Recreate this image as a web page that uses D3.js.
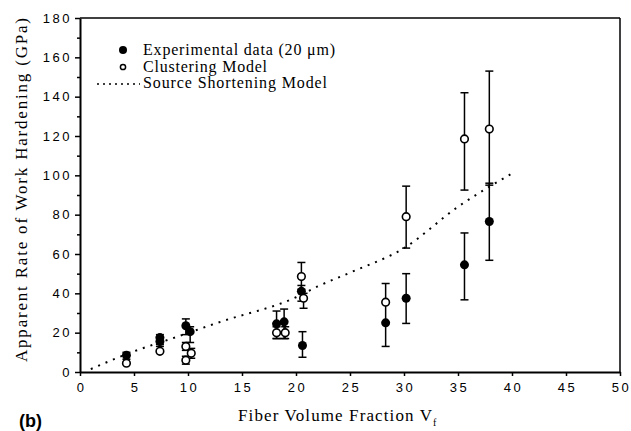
<!DOCTYPE html>
<html>
<head>
<meta charset="utf-8">
<script src="https://cdn.jsdelivr.net/npm/d3@7"></script>
<style>
  body { margin: 0; background: #fff; }
  svg { display: block; }
</style>
</head>
<body>
<svg width="631" height="431"></svg>
<script>
// experimental data (filled circles)
const expX = [4.3, 7.4, 7.4, 9.8, 10.2, 18.2, 18.9, 20.5, 20.6, 28.3, 30.2, 35.6, 37.9]
const expY = [8.5, 17.5, 15.5, 23.5, 20.5, 24.5, 25.5, 41, 13.5, 25, 37.5, 54.5, 76.5]
const expLo = [6.5, 14, 13, 19, 15, 17, 17, 36, 7.5, 13, 24.7, 36.7, 56.8]
const expHi = [10, 19, 18, 27, 23, 31, 32, 44, 20.5, 45, 50, 70.7, 96]

// clustering model (open circles)
const cluX = [4.3, 7.4, 9.8, 9.8, 10.3, 18.2, 19.0, 20.5, 20.7, 28.3, 30.2, 35.6, 37.9]
const cluY = [4.5, 10.5, 6, 13, 9.5, 20, 20, 48.5, 37.5, 35.5, 79, 118.5, 123.5]
const cluLo = [4.5, 10.5, 4, 11, 7, 17, 17, 42, 32.4, 35.5, 63, 92.5, 95]
const cluHi = [4.5, 10.5, 8, 15, 12, 23, 23, 55.7, 40, 35.5, 94.5, 142, 153]

// source shortening model (dotted)
const modelX = [1, 5, 8.5, 13, 20, 22, 25, 30, 35, 40]
const modelY = [1.5, 10.5, 17, 25.5, 38, 43.5, 50.5, 63, 84, 101]

const xTicks = [0, 5, 10, 15, 20, 25, 30, 35, 40, 45, 50]
const yTicks = [0, 20, 40, 60, 80, 100, 120, 140, 160, 180]

const svg = d3.select('svg')
const mLeft = 80, mRight = 620, mTop = 18, mBottom = 372

const x = d3.scaleLinear().domain([0, 50]).range([mLeft, mRight])
const y = d3.scaleLinear().domain([0, 180]).range([mBottom, mTop])

const serif = '"Liberation Serif", "Times New Roman", serif'
const sans = '"Liberation Sans", Arial, sans-serif'

// frame
svg.append('line').attr('x1', mLeft).attr('x2', mRight).attr('y1', mTop).attr('y2', mTop)
  .attr('stroke', '#000').attr('stroke-width', 1.5)
svg.append('line').attr('x1', mRight).attr('x2', mRight).attr('y1', mTop).attr('y2', mBottom)
  .attr('stroke', '#000').attr('stroke-width', 1.5)

// axes
svg.append('g')
  .attr('transform', 'translate(' + mLeft + ',0)')
  .call(d3.axisLeft(y).tickValues(yTicks).tickSize(5).tickSizeOuter(0).tickPadding(3))
const yMinor = svg.append('g')
  .attr('transform', 'translate(' + mLeft + ',0)')
  .call(d3.axisLeft(y).tickValues(d3.range(10, 180, 20)).tickSize(3).tickSizeOuter(0).tickFormat(''))
yMinor.select('.domain').remove()

const xAxis = svg.append('g')
  .attr('transform', 'translate(0,' + mBottom + ')')
  .call(d3.axisBottom(x).tickValues(xTicks).tickSize(4).tickSizeOuter(0).tickPadding(5))

svg.selectAll('.domain').attr('stroke', '#000').attr('stroke-width', 2)
svg.selectAll('.tick line').attr('stroke', '#000').attr('stroke-width', 1.5)
svg.selectAll('.tick text')
  .style('font-family', sans)
  .style('font-size', '13px')
  .style('letter-spacing', '2.5px')
  .attr('fill', '#000')
xAxis.selectAll('.tick text').attr('dy', '0.85em').attr('dx', '1px')

// model curve
const line = d3.line().x(d => x(d[0])).y(d => y(d[1])).curve(d3.curveMonotoneX)
svg.append('path')
  .datum(d3.zip(modelX, modelY))
  .attr('d', line)
  .attr('fill', 'none')
  .attr('stroke', '#000')
  .attr('stroke-width', 2)
  .attr('stroke-dasharray', '2,6')

// error bars
function errorBars (xs, lo, hi) {
  const g = svg.append('g').attr('stroke', '#000').attr('stroke-width', 1.5)
  xs.forEach(function (v, i) {
    if (lo[i] === hi[i]) return
    g.append('line').attr('x1', x(v)).attr('x2', x(v)).attr('y1', y(lo[i])).attr('y2', y(hi[i]))
    g.append('line').attr('x1', x(v) - 4).attr('x2', x(v) + 4).attr('y1', y(lo[i])).attr('y2', y(lo[i]))
    g.append('line').attr('x1', x(v) - 4).attr('x2', x(v) + 4).attr('y1', y(hi[i])).attr('y2', y(hi[i]))
  })
}
errorBars(expX, expLo, expHi)
errorBars(cluX, cluLo, cluHi)

svg.append('g').selectAll('circle')
  .data(d3.zip(expX, expY))
  .enter().append('circle')
  .attr('cx', d => x(d[0]))
  .attr('cy', d => y(d[1]))
  .attr('r', 4.5)
  .attr('fill', '#000')

svg.append('g').selectAll('circle')
  .data(d3.zip(cluX, cluY))
  .enter().append('circle')
  .attr('cx', d => x(d[0]))
  .attr('cy', d => y(d[1]))
  .attr('r', 3.8)
  .attr('fill', '#fff')
  .attr('stroke', '#000')
  .attr('stroke-width', 1.6)

// legend
svg.append('circle').attr('cx', 123).attr('cy', 50).attr('r', 4).attr('fill', '#000')
svg.append('circle').attr('cx', 123).attr('cy', 67).attr('r', 2.6)
  .attr('fill', '#fff').attr('stroke', '#000').attr('stroke-width', 1.5)
svg.append('line').attr('x1', 97).attr('x2', 140).attr('y1', 84).attr('y2', 84)
  .attr('stroke', '#000').attr('stroke-width', 1.5).attr('stroke-dasharray', '2,4')

const legendText = [
  ['Experimental data (20 \u03bcm)', 55, 192],
  ['Clustering Model', 71.5, 124],
  ['Source Shortening Model', 87.5, 184]
]
legendText.forEach(function (d) {
  svg.append('text')
    .attr('x', 143).attr('y', d[1])
    .attr('textLength', d[2]).attr('lengthAdjust', 'spacing')
    .style('font-family', serif).style('font-size', '16px')
    .text(d[0])
})

// axis titles
svg.append('text')
  .attr('transform', 'translate(27,190) rotate(-90)')
  .attr('text-anchor', 'middle')
  .attr('textLength', 344).attr('lengthAdjust', 'spacing')
  .style('font-family', serif).style('font-size', '17px')
  .text('Apparent Rate of Work Hardening (GPa)')

svg.append('text')
  .attr('x', 238).attr('y', 421)
  .attr('textLength', 194).attr('lengthAdjust', 'spacing')
  .style('font-family', serif).style('font-size', '17px')
  .text('Fiber Volume Fraction V')
svg.append('text')
  .attr('x', 433).attr('y', 426)
  .style('font-family', serif).style('font-size', '10px')
  .text('f')

svg.append('text')
  .attr('x', 19).attr('y', 427)
  .style('font-family', sans).style('font-size', '18px').style('font-weight', 'bold')
  .text('(b)')
</script>
</body>
</html>
